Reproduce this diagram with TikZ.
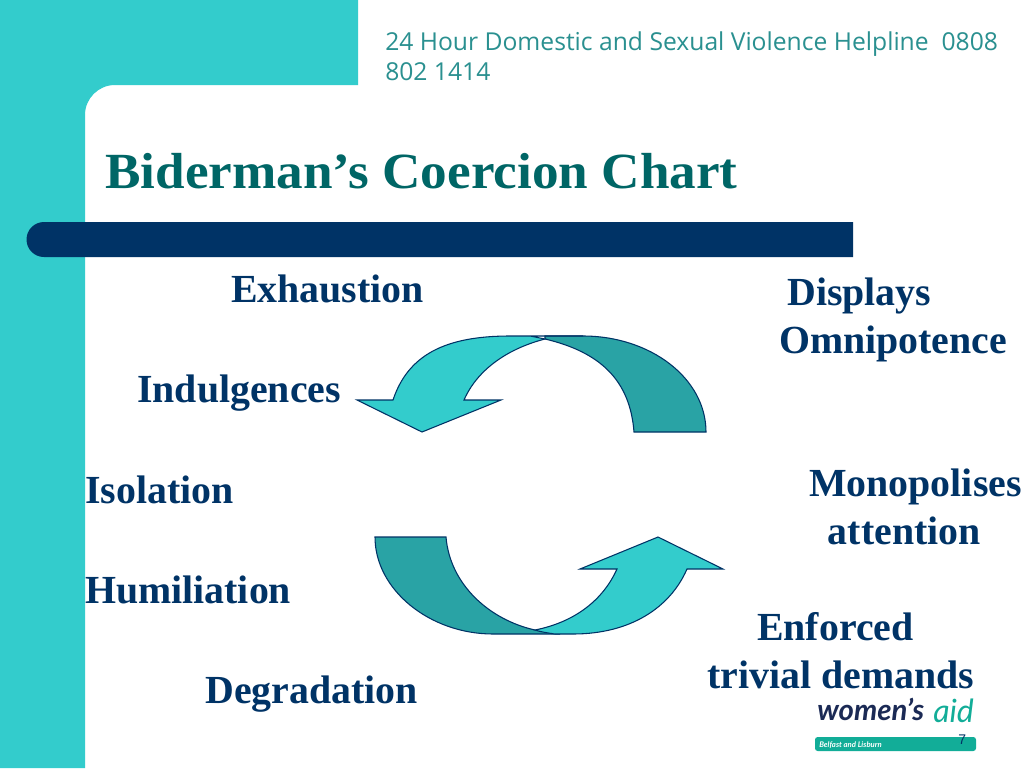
\documentclass[tikz,border=0pt]{standalone}
\usepackage{fontspec}
\setmainfont{Liberation Serif}
\newfontfamily\headfont{Open Sans}
\newfontfamily\titlefont[FakeStretch=1.05]{Liberation Serif}
\newfontfamily\logofont{Lato}
\newfontfamily\numfont{Liberation Sans}
\usepackage{xcolor}
\definecolor{slideteal}{HTML}{33CCCC}
\definecolor{darkteal}{HTML}{29A3A5}
\definecolor{slidenavy}{HTML}{003366}
\definecolor{titleteal}{HTML}{006666}
\definecolor{headteal}{HTML}{2A9090}
\definecolor{logogreen}{HTML}{12AD98}
\definecolor{logonavy}{HTML}{1B2A55}

\begin{document}
\begin{tikzpicture}[x=0.75pt, y=-0.75pt,
    head_style/.style={anchor=base west, inner sep=0pt, font=\headfont\fontsize{18.5}{22.5}\selectfont, text=headteal, align=left},
    title_style/.style={anchor=base west, inner sep=0pt, font=\titlefont\fontsize{38}{44}\selectfont\bfseries, text=titleteal},
    word_style/.style={anchor=base west, inner sep=0pt, font=\fontsize{29.87}{35.3}\selectfont\bfseries, text=slidenavy, align=left},
    bend_style/.style={draw=slidenavy, line width=0.8pt, line join=miter}]

	\useasboundingbox (0, 0) rectangle (1024, 768);

	% background
	\fill[white] (0, 0) rectangle (1024, 768);
	\fill[slideteal] (0, 0) -- (358, 0) -- (358, 85) -- (115, 85) arc[start angle=270, end angle=180, radius=30] -- (85, 768) -- (0, 768) -- cycle;
	\fill[slidenavy] (853, 222) -- (44, 222) arc[start angle=270, end angle=90, radius=17.5] -- (853, 257) -- cycle;

	% heading
	\node[head_style] (helpline) at (385, 80) {24 Hour Domestic and Sexual Violence Helpline\ \ 0808\\802 1414};
	\node[title_style] (title) at (105, 188) {Biderman’s Coercion Chart};

	% left words
	\node[word_style] (exhaustion) at (231, 302) {Exhaustion};
	\node[word_style] (indulgences) at (137, 402) {Indulgences};
	\node[word_style] (isolation) at (85, 503) {Isolation};
	\node[word_style] (humiliation) at (85, 603) {Humiliation};
	\node[word_style] (degradation) at (205, 703) {Degradation};

	% right words
	\node[word_style] (displays) at (779, 353) {\hspace*{6pt}Displays\\Omnipotence};
	\node[word_style] (monopolises) at (809, 544) {Monopolises\\\hspace*{14pt}attention};
	\node[word_style] (enforced) at (707, 688) {\hspace*{37.5pt}Enforced\\trivial demands};

	% top arrow
	\draw[bend_style, fill=darkteal] (545, 336) -- (583, 336) .. controls (650, 336) and (706, 378) .. (706, 432) -- (634, 432) .. controls (630, 380) and (600, 352) .. (545, 339) -- cycle;
	\draw[bend_style, fill=slideteal] (583, 336) -- (510, 336) .. controls (445, 336) and (408, 355) .. (393, 400) -- (357, 400) -- (422, 432) -- (501, 400) -- (464, 400) .. controls (478, 368) and (510, 348) .. (545, 339) .. controls (540, 338) and (535, 337) .. (530, 336) -- cycle;

	% bottom arrow
	\draw[bend_style, fill=darkteal] (375, 537) -- (446, 537) .. controls (450, 585) and (490, 620) .. (535, 630) -- (560, 634) -- (493, 634) .. controls (430, 634) and (375, 590) .. (375, 537) -- cycle;
	\draw[bend_style, fill=slideteal] (535, 630) .. controls (575, 622) and (603, 600) .. (617, 569) -- (580, 569) -- (658, 537) -- (723, 569) -- (687, 569) .. controls (670, 608) and (630, 634) .. (573, 634) -- (555, 634) .. controls (548, 633) and (541, 632) .. (535, 630) -- cycle;

	% logo
	\node[anchor=base west, inner sep=0pt, font=\logofont\itshape\bfseries\fontsize{22}{22}\selectfont, text=logonavy] (womens) at (817, 720) {women’s};
	\node[anchor=base west, inner sep=0pt, font=\logofont\itshape\fontsize{24}{24}\selectfont, text=logogreen] (aid) at (933, 722) {aid};
	\fill[logogreen, rounded corners=2pt] (815, 737) rectangle (976, 751);
	\node[anchor=base west, inner sep=0pt, font=\logofont\itshape\bfseries\fontsize{5.8}{6}\selectfont, text=white] (belfast) at (819, 747) {Belfast and Lisburn};
	\node[anchor=base west, inner sep=0pt, font=\numfont\fontsize{10.5}{11}\selectfont, text=slidenavy] (pagenum) at (958, 744) {7};
\end{tikzpicture}
\end{document}
